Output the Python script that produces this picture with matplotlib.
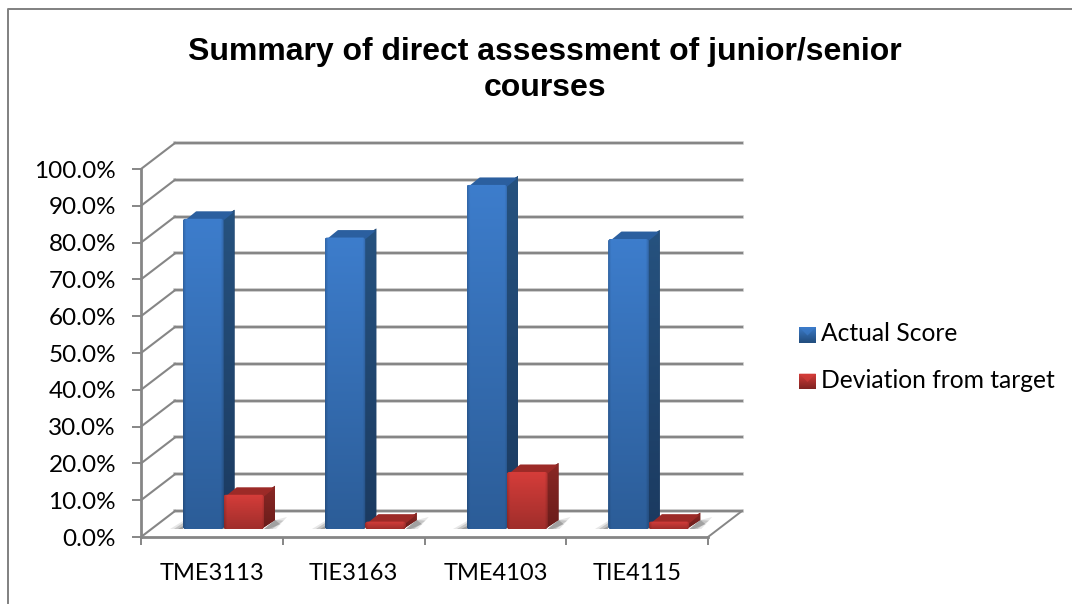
import matplotlib
matplotlib.use("Agg")
import matplotlib.pyplot as plt
from matplotlib.patches import FancyBboxPatch
import numpy as np

courses = ["TME3113", "TIE3163", "TME4103", "TIE4115"]
actual_score = [84.3, 79.2, 93.5, 78.8]
deviation = [9.3, 2.0, 15.5, 2.0]
y_ticks = [0, 10, 20, 30, 40, 50, 60, 70, 80, 90, 100]
title_lines = ["Summary of direct assessment of junior/senior", "courses"]
series_names = ["Actual Score", "Deviation from target"]

W, H = 1072, 605
GRID = "#868686"

# depth of the fake 3d box, in data units (one category wide, percent high)
PX_X = 141.75
PX_Y = 3.68
wall_dx = 34 / PX_X
wall_dy = 26 / PX_Y
bar_dx = 11 / PX_X
bar_dy = 9 / PX_Y
lift = 8 / PX_Y
bar_w = 40.5 / PX_X
bar_start = 42 / PX_X
round_x = 2.5 / PX_X
round_y = 2.5 / PX_Y


def gradient(ax, x0, x1, y0, y1, top, bottom, clip, zorder, edge=True):
    top = np.array(matplotlib.colors.to_rgb(top))
    bottom = np.array(matplotlib.colors.to_rgb(bottom))
    t = np.linspace(0, 1, 64)[:, None, None]
    img = top * (1 - t) + bottom * t
    img = np.repeat(img, 40, axis=1)
    if edge:
        # slightly darker rim left and right, like the bevel
        u = np.linspace(0, 1, 40)
        rim = 1 - 0.16 * (np.clip(1 - u / 0.07, 0, 1) + np.clip((u - 0.93) / 0.07, 0, 1))
        img = img * rim[None, :, None]
    im = ax.imshow(img, extent=(x0, x1, y0, y1), origin="upper", aspect="auto",
                   zorder=zorder, interpolation="bilinear")
    im.set_clip_path(clip)


def draw_shadow(ax, x):
    y0 = lift
    # left of the bar
    for k, a in zip([1.0, 0.7, 0.4], [0.15, 0.25, 0.35]):
        ax.fill([x - 13 * k / PX_X, x, x], [y0, y0, y0 + 8 * k / PX_Y],
                color="#606060", alpha=a, lw=0, zorder=2, clip_on=False)
        # right of the bar, on the floor
        r = x + bar_w
        ax.fill([r, r + 12 * k / PX_X, r + (12 + 11 * k) / PX_X, r + bar_dx],
                [y0, y0, y0 + 12 * k / PX_Y, y0 + bar_dy],
                color="#606060", alpha=a, lw=0, zorder=2, clip_on=False)


def draw_bar(ax, x, value, front_top, front_bot, side_top, side_bot, cap, z):
    y0 = lift
    y1 = lift + value
    sx = [x + bar_w - round_x, x + bar_w + bar_dx, x + bar_w + bar_dx, x + bar_w - round_x]
    side = ax.fill(sx, [y0, y0 + bar_dy, y1 + bar_dy, y1], color=side_bot, lw=0, zorder=z, clip_on=False)[0]
    gradient(ax, sx[0], sx[1], y0, y1 + bar_dy, side_top, side_bot, side, z + 0.1, edge=False)
    ax.fill([x + round_x, x + bar_dx + round_x, x + bar_w + bar_dx - round_x, x + bar_w - round_x],
            [y1 - round_y, y1 + bar_dy - round_y, y1 + bar_dy - round_y, y1 - round_y],
            color=cap, ec=cap, lw=1.4, joinstyle="round", zorder=z + 0.2, clip_on=False)
    shape = FancyBboxPatch((x, y0), bar_w, value, boxstyle="round,pad=0,rounding_size=%f" % round_x,
                           mutation_aspect=round_y / round_x, fc="none", ec="none", zorder=z + 0.25)
    ax.add_patch(shape)
    front = ax.bar(x, value, bar_w, bottom=y0, align="edge", color=front_bot, lw=0, zorder=z + 0.3)[0]
    front.set_clip_path(shape)
    gradient(ax, x, x + bar_w, y0, y1, front_top, front_bot, shape, z + 0.4)


fig = plt.figure(figsize=(W / 100, H / 100), dpi=100)
ax = fig.add_axes([141 / W, 1 - 537 / H, (708 - 141) / W, (537 - 169) / H])
ax.set_xlim(0, 4)
ax.set_ylim(0, 100)
ax.patch.set_alpha(0)
for s in ax.spines.values():
    s.set_visible(False)

# back wall lines and the slanted lines on the side wall
for v in y_ticks:
    ax.plot([wall_dx, 4 + wall_dx], [v + wall_dy, v + wall_dy], color="#dcdcdc", lw=2.8, zorder=0.9, clip_on=False)
    ax.plot([wall_dx, 4 + wall_dx], [v + wall_dy, v + wall_dy], color=GRID, lw=1.7, zorder=1, clip_on=False)
    ax.plot([0, wall_dx], [v, v + wall_dy], color=GRID, lw=1.5, zorder=1, clip_on=False)
ax.plot([0, 0], [0, 100], color=GRID, lw=2, zorder=1, clip_on=False)
ax.plot([0, 4], [0, 0], color=GRID, lw=2, zorder=1, clip_on=False)
ax.plot([4, 4 + wall_dx], [0, wall_dy], color=GRID, lw=1.4, zorder=1, clip_on=False)

for i in range(len(courses)):
    x = i + bar_start
    draw_shadow(ax, x)
    draw_shadow(ax, x + bar_w)
    draw_bar(ax, x, actual_score[i], "#3d7dcc", "#2c5d98", "#26527f", "#1b3a60", "#2b5f9f", 4)
    draw_bar(ax, x + bar_w, deviation[i], "#d63d3a", "#a02e2b", "#8a2825", "#6a1c1a", "#9c2a27", 6)

ax.set_xticks(range(5))
ax.set_xticks(np.arange(len(courses)) + 0.5, courses, minor=True)
ax.set_xticklabels([])
ax.set_yticks(y_ticks)
ax.set_yticklabels(["%.1f%%" % v for v in y_ticks])
ax.tick_params(axis="x", which="major", length=5.8, width=1.4, color=GRID)
ax.tick_params(axis="x", which="minor", length=0, pad=18.5, labelsize=17, labelcolor="black")
ax.tick_params(axis="y", length=6.5, width=1.4, color=GRID, pad=11.5, labelsize=17.5, labelcolor="black")
for lab in ax.get_xticklabels(minor=True) + ax.get_yticklabels():
    lab.set_fontfamily("Lato")

# legend keys with the same bevelled look
leg = fig.add_axes([0, 0, 1, 1])
leg.set_xlim(0, W)
leg.set_ylim(H, 0)
leg.axis("off")
leg.patch.set_alpha(0)
key_y = [334.5, 381]
key_top = ["#3d7dcc", "#d63d3a"]
key_bot = ["#234f80", "#7f2321"]
for name, y, t, b in zip(series_names, key_y, key_top, key_bot):
    box = leg.fill([799, 816, 816, 799], [y - 7.5, y - 7.5, y + 8, y + 8], color=b, lw=0)[0]
    gradient(leg, 799, 816, y + 8, y - 7.5, t, b, box, 3, edge=False)
    leg.fill([799, 807.5, 816], [y - 7.5, y + 1, y - 7.5], color=t, lw=0, alpha=0.6, zorder=4)
    leg.text(821, y - 1, name, ha="left", va="center", fontsize=17.7, family="Lato", color="black")
leg.set_xlim(0, W)
leg.set_ylim(H, 0)

for line, y in zip(title_lines, [52, 88]):
    leg.text(545, y, line, ha="center", va="center", fontsize=23, fontweight="bold",
             family="Liberation Sans", color="black")

# outer chart border
leg.plot([7.5, 7.5, W], [603, 8.5, 8.5], color="#808080", lw=1.4, zorder=1)

fig.savefig("out.png", dpi=100)
